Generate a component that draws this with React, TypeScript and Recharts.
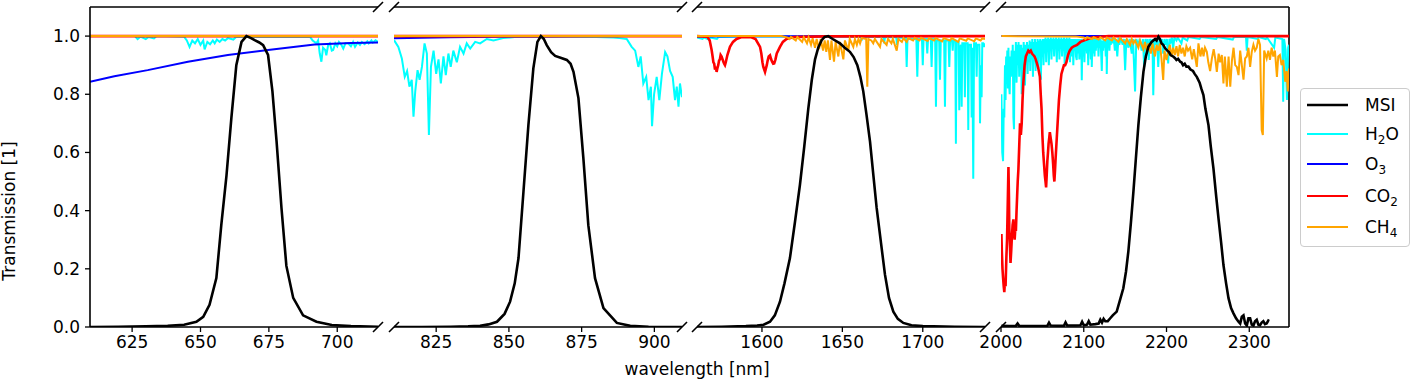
import React from "react";
import { LineChart, Line, XAxis, YAxis, ReferenceLine } from "recharts";

type Pt = [number, number];

const FONT = '"DejaVu Sans", sans-serif';

// ---- panel 1: ~610-715 nm (MSI band B4) ----
const msiP1: Pt[] = [
  [609.6, 0], [620, 0.001], [630, 0.002], [638, 0.004], [644, 0.008], [648.5, 0.018], [651, 0.035],
  [653.3, 0.076], [655.8, 0.168], [657.6, 0.35], [659.5, 0.52], [661.3, 0.72], [663.1, 0.9], [665, 0.98],
  [666.8, 1.0], [668.5, 0.993], [669.8, 0.986], [671.5, 0.978], [672.9, 0.969], [674.7, 0.935], [676.3, 0.81],
  [677.8, 0.64], [679.6, 0.41], [681.4, 0.21], [683.9, 0.1], [687.5, 0.04], [692.4, 0.018], [698, 0.007],
  [705, 0.003], [714.9, 0.001],
];
const h2oP1: Pt[] = [
  [609.6, 1.0], [626, 1.0], [627, 0.99], [628, 0.998], [630, 0.99], [631, 0.997], [633, 0.992], [634, 1.0],
  [644, 0.998], [645, 0.985], [646, 0.963], [647, 0.985], [648, 0.975], [649, 0.99], [650, 0.97], [651, 0.985],
  [651.5, 0.954], [652.5, 0.98], [653.5, 0.972], [654.5, 0.985], [655.2, 0.975], [656, 0.988], [657, 0.98],
  [658, 0.99], [659, 0.985], [660, 0.993], [662, 0.988], [663, 0.997], [690, 0.998], [691, 0.985],
  [692.4, 0.975], [693, 0.985], [693.6, 0.94], [694.2, 0.912], [694.8, 0.96], [695.6, 0.952], [696, 0.934],
  [696.7, 0.97], [697.3, 0.975], [698, 0.95], [698.5, 0.952], [699.3, 0.975], [700, 0.965], [700.6, 0.98],
  [701.5, 0.97], [702.2, 0.957], [703, 0.975], [704, 0.975], [705, 0.965], [705.8, 0.98], [706.5, 0.963],
  [707.5, 0.978], [708.3, 0.97], [709, 0.98], [710, 0.972], [711, 0.982], [711.5, 0.975], [712.5, 0.985],
  [713, 0.978], [714, 0.986], [714.9, 0.98],
];
const o3P1: Pt[] = [
  [609.6, 0.843], [618.5, 0.862], [630.7, 0.883], [645.4, 0.912], [660, 0.935], [674.7, 0.952],
  [691.7, 0.971], [705, 0.976], [714.9, 0.978],
];
const co2P1: Pt[] = [[609.6, 1.0], [714.9, 1.0]];
const ch4P1: Pt[] = [[609.6, 1.0], [714.9, 1.0]];

// ---- panel 2: ~810-910 nm (B8A) ----
const msiP2: Pt[] = [
  [810.5, 0], [820, 0], [830, 0.001], [836, 0.002], [840.1, 0.004], [843, 0.009], [845.9, 0.018], [848.5, 0.045],
  [850.4, 0.087], [852, 0.15], [853.3, 0.237], [855, 0.465], [856.7, 0.694], [858.4, 0.889], [859.8, 0.98],
  [861, 1.0], [862, 0.99], [863, 0.969], [864.5, 0.945], [865.9, 0.932], [868, 0.925], [869.9, 0.918],
  [871.2, 0.905], [872.2, 0.877], [873.9, 0.787], [875.6, 0.58], [877.3, 0.35], [879.6, 0.168], [882.5, 0.065],
  [887.1, 0.014], [891.7, 0.004], [898, 0.001], [909.5, 0],
];
const h2oP2: Pt[] = [
  [810.5, 0.986], [812, 0.963], [813.2, 0.923], [814.2, 0.86], [815, 0.88], [815.8, 0.826], [816.6, 0.85],
  [817.2, 0.723], [817.8, 0.81], [818.6, 0.883], [819.3, 0.85], [820.1, 0.894], [821, 0.975], [821.8, 0.94],
  [822.5, 0.66], [823.2, 0.894], [824.1, 0.95], [825, 0.87], [825.8, 0.92], [826.6, 0.837], [827.5, 0.93],
  [828.3, 0.866], [829.2, 0.94], [830, 0.894], [830.9, 0.95], [832.1, 0.91], [833.2, 0.963], [834.4, 0.94],
  [835.5, 0.975], [836.7, 0.957], [838.4, 0.98], [840.1, 0.975], [842.4, 0.99], [844.7, 0.985], [848, 0.993],
  [852, 0.997], [860, 0.999], [870, 0.998], [880, 0.997], [885.9, 0.995], [888, 0.993], [890.5, 0.99],
  [892.2, 0.963], [893.4, 0.95], [894.5, 0.894], [895.3, 0.93], [896.2, 0.837], [897.2, 0.86], [898, 0.78],
  [898.8, 0.826], [899.2, 0.69], [899.9, 0.8], [900.8, 0.86], [901.7, 0.78], [902.6, 0.87], [903.7, 0.945],
  [904.5, 0.93], [905.4, 0.88], [906.3, 0.86], [907.1, 0.78], [907.7, 0.826], [908.3, 0.757], [908.8, 0.837],
  [909.5, 0.79],
];
const o3P2: Pt[] = [[810.5, 0.993], [820, 0.994], [830, 0.996], [845, 0.998], [860, 0.999], [880, 1.0], [909.5, 1.0]];
const co2P2: Pt[] = [[810.5, 1.0], [909.5, 1.0]];
const ch4P2: Pt[] = [[810.5, 1.0], [909.5, 1.0]];

// ---- panel 3: ~1560-1739 nm (B11) ----
const msiP3: Pt[] = [
  [1559.6, 0], [1575, 0.001], [1590, 0.003], [1597, 0.005], [1601, 0.008], [1605, 0.018], [1608, 0.04],
  [1611.2, 0.087], [1614, 0.15], [1617.4, 0.237], [1620.5, 0.36], [1623.6, 0.488], [1626.3, 0.62],
  [1628.8, 0.75], [1631, 0.85], [1633, 0.92], [1635, 0.96], [1637.1, 0.986], [1639, 0.997], [1641.2, 1.0],
  [1644, 0.99], [1648.5, 0.975], [1651.5, 0.96], [1654.7, 0.946], [1657, 0.928], [1659.3, 0.9], [1661.2, 0.86],
  [1663, 0.81], [1665, 0.73], [1667.2, 0.637], [1669.3, 0.52], [1671.3, 0.41], [1674, 0.29], [1676.5, 0.18],
  [1679, 0.1], [1681.7, 0.053], [1684.5, 0.028], [1687.9, 0.014], [1693, 0.006], [1700, 0.003], [1720, 0.001],
  [1738.7, 0],
];
const h2oP3: Pt[] = [
  [1559.6, 0.995], [1563, 0.99], [1564, 0.995], [1567, 0.988], [1568, 0.995], [1572, 0.99], [1573, 0.997],
  [1590, 0.999], [1660, 0.998], [1661.5, 0.998], [1662, 0.985], [1662.5, 0.998], [1675.5, 0.997], [1676, 0.975],
  [1676.5, 0.996], [1683.5, 0.996], [1684, 0.97], [1684.5, 0.995], [1689.5, 0.993], [1690, 0.894], [1690.5, 0.99],
  [1696, 0.99], [1696.6, 0.86], [1697.2, 0.99], [1699.5, 0.99], [1700, 0.9], [1700.5, 0.99], [1702.3, 0.99],
  [1702.8, 0.94], [1703.3, 0.99], [1705, 0.99], [1705.5, 0.894], [1706, 0.99], [1707.7, 0.99], [1708.2, 0.757],
  [1708.7, 0.985], [1710.2, 0.985], [1710.7, 0.85], [1711.2, 0.985], [1713.3, 0.985], [1713.8, 0.757],
  [1714.3, 0.985], [1716, 0.985], [1716.5, 0.894], [1717, 0.985], [1718.2, 0.985], [1718.6, 0.95], [1719, 0.985],
  [1720.2, 0.985], [1720.6, 0.63], [1721, 0.98], [1722.3, 0.98], [1722.7, 0.745], [1723.1, 0.96], [1723.8, 0.97],
  [1724.2, 0.757], [1724.6, 0.975], [1725.8, 0.975], [1726.2, 0.79], [1726.6, 0.975], [1727.9, 0.975],
  [1728.3, 0.677], [1728.7, 0.97], [1730, 0.97], [1730.4, 0.72], [1730.8, 0.96], [1731.4, 0.51], [1731.9, 0.975],
  [1733.1, 0.975], [1733.5, 0.86], [1733.9, 0.97], [1735.2, 0.97], [1735.6, 0.7], [1736.1, 0.9], [1736.6, 0.79],
  [1737, 0.975], [1737.6, 0.975], [1738, 0.963], [1738.7, 0.975],
];
const o3P3: Pt[] = [[1559.6, 0.999], [1738.7, 1.0]];
const co2P3: Pt[] = [
  [1559.6, 1.0], [1566, 0.998], [1567.5, 0.985], [1568.7, 0.952], [1569.3, 0.93], [1569.8, 0.91], [1570.3, 0.905],
  [1570.8, 0.885], [1571.3, 0.895], [1571.8, 0.877], [1572.3, 0.89], [1572.8, 0.9], [1573.3, 0.915],
  [1573.8, 0.92], [1574.3, 0.935], [1574.9, 0.93], [1575.5, 0.92], [1576, 0.912], [1576.5, 0.905], [1577, 0.9],
  [1577.5, 0.91], [1578.5, 0.935], [1580.1, 0.963], [1582, 0.98], [1584.2, 0.99], [1587, 0.996], [1593, 0.997],
  [1596, 0.99], [1598.8, 0.963], [1599.6, 0.94], [1600.3, 0.91], [1600.8, 0.895], [1601.4, 0.885],
  [1601.9, 0.877], [1602.5, 0.89], [1603, 0.9], [1603.5, 0.915], [1604.2, 0.93], [1605, 0.934], [1605.7, 0.92],
  [1606.3, 0.912], [1607, 0.905], [1607.6, 0.906], [1608.4, 0.92], [1609.2, 0.94], [1611.2, 0.963], [1613, 0.98],
  [1615.3, 0.99], [1620, 0.997], [1640, 0.999], [1738.7, 1.0],
];
const ch4P3: Pt[] = [
  [1559.6, 1.0], [1612, 1.0], [1616, 0.995], [1617, 0.99], [1618, 0.997], [1621, 0.985], [1622, 0.997],
  [1625, 0.98], [1626, 0.996], [1628, 0.975], [1629, 0.995], [1630.5, 0.97], [1631.5, 0.993], [1633, 0.96],
  [1634, 0.99], [1635.5, 0.955], [1636.5, 0.99], [1638, 0.95], [1639, 0.985], [1640, 0.946], [1641, 0.985],
  [1642.3, 0.918], [1643.2, 0.985], [1644.8, 0.912], [1645.8, 0.98], [1647.5, 0.93], [1648.5, 0.98],
  [1650.6, 0.92], [1651.6, 0.985], [1653.7, 0.95], [1654.6, 0.99], [1656.8, 0.963], [1657.8, 0.99], [1659, 0.97],
  [1660, 0.99], [1661, 0.975], [1662, 0.993], [1664.8, 0.99], [1665.5, 0.826], [1666.2, 0.99], [1668, 0.985],
  [1669.2, 0.975], [1670.2, 0.99], [1673.4, 0.963], [1674.3, 0.99], [1677.5, 0.97], [1678.4, 0.99],
  [1680.5, 0.975], [1681.4, 0.99], [1683.8, 0.95], [1684.8, 0.99], [1687, 0.98], [1688, 0.993], [1690, 0.98],
  [1691, 0.993], [1694, 0.985], [1695, 0.994], [1698, 0.985], [1699, 0.994], [1703, 0.983], [1704, 0.993],
  [1707, 0.985], [1708, 0.993], [1712, 0.982], [1713, 0.993], [1717, 0.985], [1718, 0.993], [1722, 0.98],
  [1723, 0.992], [1727, 0.984], [1728, 0.992], [1732, 0.982], [1733, 0.992], [1736, 0.985], [1737, 0.992],
  [1738.7, 0.99],
];

// ---- panel 4: 2000-2350 nm (B12) ----
const msiP4: Pt[] = [
  [2000.5, 0.004], [2010, 0.003], [2018, 0.004], [2020, 0.012], [2022, 0.004], [2040, 0.003], [2056, 0.004],
  [2058, 0.015], [2060, 0.005], [2076, 0.004], [2078, 0.016], [2080, 0.005], [2090, 0.005], [2096, 0.006],
  [2098, 0.018], [2100, 0.006], [2104, 0.008], [2106, 0.02], [2108, 0.008], [2114, 0.01], [2118, 0.012],
  [2120, 0.025], [2122, 0.015], [2124, 0.028], [2126, 0.02], [2129, 0.02], [2132, 0.03], [2135, 0.04],
  [2139.8, 0.053], [2143.5, 0.09], [2147.8, 0.133], [2151, 0.19], [2153.9, 0.26], [2157, 0.36], [2160, 0.465],
  [2163, 0.58], [2166, 0.694], [2169, 0.79], [2172.1, 0.877], [2175, 0.93], [2178.1, 0.963], [2182, 0.98],
  [2186.2, 0.99], [2188, 0.985], [2190.2, 0.998], [2192, 0.99], [2194, 0.975], [2196, 0.97], [2198.3, 0.958],
  [2201, 0.95], [2203, 0.945], [2205, 0.935], [2208.4, 0.929], [2210, 0.925], [2212, 0.918], [2214, 0.922],
  [2216.5, 0.912], [2218, 0.91], [2220, 0.9], [2222, 0.905], [2224, 0.895], [2226.5, 0.895], [2229, 0.885],
  [2232, 0.88], [2234, 0.87], [2236.6, 0.86], [2240, 0.84], [2242, 0.82], [2244.6, 0.797], [2247, 0.75],
  [2250.7, 0.694], [2253.5, 0.62], [2256.7, 0.545], [2260, 0.45], [2262.8, 0.373], [2266, 0.29], [2268.8, 0.213],
  [2272, 0.15], [2274.9, 0.099], [2278, 0.065], [2280.9, 0.047], [2284, 0.03], [2287, 0.018], [2289, 0.012],
  [2291, 0.035], [2293, 0.04], [2295, 0.012], [2297, 0.005], [2299, 0.03], [2301, 0.03], [2303, 0.008],
  [2305, 0.005], [2307, 0.02], [2309, 0.025], [2311, 0.008], [2313, 0.006], [2315, 0.015], [2317, 0.02],
  [2319, 0.01], [2321, 0.012], [2323, 0.022], [2324, 0.02],
];
const h2oP4: Pt[] = [
  [2000.5, 0.8], [2001.5, 0.6], [2002.5, 0.57], [2003.3, 0.75], [2004, 0.72], [2004.8, 0.9], [2005.5, 0.78],
  [2006.2, 0.93], [2006.9, 0.85], [2007.6, 0.95], [2008.3, 0.82], [2009, 0.96], [2009.8, 0.83], [2010.5, 0.8],
  [2011.3, 0.93], [2012, 0.86], [2012.8, 0.95], [2013.5, 0.88], [2014.2, 0.97], [2015, 0.72], [2015.7, 0.68],
  [2016.5, 0.95], [2017.2, 0.87], [2018, 0.98], [2018.8, 0.84], [2019.6, 0.97], [2020.4, 0.9], [2021.2, 0.98],
  [2022, 0.86], [2022.8, 0.97], [2023.6, 0.9], [2024.3, 0.97], [2025, 0.8], [2025.8, 0.96], [2026.6, 0.88],
  [2027.4, 0.98], [2028.2, 0.86], [2029, 0.83], [2029.8, 0.97], [2030.6, 0.9], [2031.4, 0.98], [2032.2, 0.87],
  [2033, 0.97], [2033.8, 0.91], [2034.6, 0.985], [2035.4, 0.88], [2036.2, 0.98], [2037, 0.92], [2037.8, 0.99],
  [2038.6, 0.86], [2039.4, 0.98], [2040.2, 0.91], [2041, 0.99], [2041.8, 0.88], [2042.6, 0.98], [2043.4, 0.93],
  [2044.2, 0.99], [2045, 0.89], [2045.8, 0.985], [2046.6, 0.94], [2047.4, 0.99], [2048.2, 0.85], [2049, 0.985],
  [2049.8, 0.93], [2050.6, 0.99], [2051.4, 0.9], [2052.2, 0.99], [2053, 0.94], [2053.8, 0.995], [2054.6, 0.91],
  [2055.4, 0.99], [2056.2, 0.95], [2057, 0.995], [2057.8, 0.9], [2058.6, 0.99], [2059.4, 0.95], [2060.2, 0.995],
  [2061, 0.92], [2061.8, 0.99], [2062.6, 0.96], [2063.4, 0.995], [2064.2, 0.93], [2065, 0.99], [2065.8, 0.96],
  [2066.6, 0.995], [2067.4, 0.91], [2068.2, 0.99], [2069, 0.95], [2069.8, 0.995], [2070.6, 0.92], [2071.4, 0.99],
  [2072.2, 0.96], [2073, 0.995], [2073.8, 0.93], [2074.6, 0.99], [2075.4, 0.95], [2076.2, 0.995], [2077, 0.9],
  [2077.8, 0.99], [2078.6, 0.94], [2079.4, 0.995], [2080.2, 0.92], [2081, 0.99], [2081.8, 0.96], [2082.6, 0.995],
  [2083.4, 0.91], [2084.2, 0.99], [2085, 0.95], [2085.8, 0.93], [2086.6, 0.99], [2087.4, 0.9], [2088.2, 0.99],
  [2089, 0.95], [2089.8, 0.99], [2090.6, 0.93], [2091.5, 0.918], [2092.3, 0.99], [2093.1, 0.94], [2093.9, 0.99],
  [2094.7, 0.92], [2095.5, 0.99], [2096.3, 0.95], [2097, 0.99], [2097.6, 0.848], [2098.4, 0.985], [2099.2, 0.93],
  [2100, 0.99], [2100.8, 0.91], [2101.6, 0.99], [2102.4, 0.95], [2103.2, 0.99], [2103.8, 0.94], [2104.6, 0.99],
  [2105.4, 0.9], [2106.2, 0.99], [2107, 0.95], [2107.8, 0.99], [2108.6, 0.92], [2109.2, 0.99], [2109.7, 0.894],
  [2110.5, 0.99], [2111.3, 0.94], [2112.1, 0.99], [2113, 0.93], [2113.8, 0.995], [2114.6, 0.95], [2115.4, 0.99],
  [2116.2, 0.96], [2117, 0.995], [2117.8, 0.93], [2118.6, 0.99], [2119.4, 0.96], [2120.2, 0.99], [2121, 0.94],
  [2121.8, 0.88], [2122.6, 0.985], [2123.4, 0.95], [2124.2, 0.99], [2125, 0.96], [2125.8, 0.99], [2126.6, 0.93],
  [2127.4, 0.985], [2127.8, 0.87], [2128.6, 0.99], [2129.4, 0.96], [2130.2, 0.995], [2131, 0.95], [2131.8, 0.99],
  [2132.6, 0.97], [2133.4, 0.995], [2135, 0.975], [2136.2, 0.995], [2137.6, 0.95], [2139, 0.99], [2140.5, 0.93],
  [2142, 0.995], [2143, 0.97], [2144.5, 0.995], [2147, 0.97], [2148.5, 0.99], [2150, 0.883], [2151.5, 0.99],
  [2154, 0.96], [2155.5, 0.99], [2158, 0.94], [2159.5, 0.99], [2162, 0.81], [2163.5, 0.99], [2166, 0.97],
  [2167.5, 0.99], [2170, 0.95], [2171.5, 0.99], [2173, 0.894], [2174.5, 0.99], [2176, 0.96], [2177.2, 0.99],
  [2178.5, 0.918], [2180, 0.99], [2182, 0.96], [2183, 0.99], [2184, 0.797], [2185.5, 0.99], [2187, 0.97],
  [2188.5, 0.99], [2190, 0.894], [2191.5, 0.99], [2193, 0.97], [2194.5, 0.99], [2196, 0.94], [2197.5, 0.99],
  [2199, 0.97], [2200.5, 0.99], [2202, 0.906], [2203.5, 0.99], [2205, 0.98], [2206.5, 0.995], [2208, 0.957],
  [2209.5, 0.995], [2212, 0.985], [2213.5, 0.995], [2218, 0.975], [2219.5, 0.995], [2225, 0.985], [2226.5, 0.997],
  [2240, 0.99], [2241.5, 0.997], [2260, 0.99], [2261.5, 0.997], [2280, 0.988], [2281.5, 0.997], [2296, 0.997],
  [2297, 0.95], [2298, 0.997], [2310, 0.99], [2311.5, 0.997], [2320, 0.99], [2321.5, 0.995], [2330, 0.96],
  [2331.5, 0.995], [2340, 0.99], [2341, 0.774], [2342, 0.99], [2344, 0.95], [2345.5, 0.78], [2347, 0.96],
  [2348, 0.97],
];
const o3P4: Pt[] = [[2000.5, 1.0], [2348, 1.0]];
const co2P4: Pt[] = [
  [2000.5, 0.32], [2001, 0.26], [2001.8, 0.2], [2002.5, 0.17], [2003.3, 0.14], [2004, 0.12], [2004.8, 0.16],
  [2005.5, 0.14], [2006.5, 0.24], [2007.3, 0.3], [2008, 0.4], [2009, 0.55], [2009.6, 0.45], [2010, 0.34],
  [2010.8, 0.28], [2011.5, 0.22], [2012.3, 0.26], [2013, 0.3], [2014, 0.35], [2015, 0.37], [2015.8, 0.33],
  [2016.5, 0.3], [2017.3, 0.34], [2018, 0.33], [2018.8, 0.4], [2019.5, 0.45], [2020.2, 0.5], [2021, 0.54],
  [2022, 0.62], [2023, 0.7], [2024, 0.66], [2025, 0.7], [2026, 0.78], [2027, 0.84], [2028.5, 0.9], [2030, 0.93],
  [2031.5, 0.94], [2033, 0.95], [2034.5, 0.945], [2036, 0.95], [2037.5, 0.94], [2039, 0.935], [2040.5, 0.93],
  [2042, 0.92], [2043.5, 0.905], [2045, 0.89], [2046, 0.875], [2047, 0.86], [2048, 0.8], [2049, 0.75],
  [2050, 0.66], [2051, 0.6], [2052, 0.56], [2053, 0.52], [2053.8, 0.5], [2054.5, 0.48], [2055.2, 0.52],
  [2056, 0.57], [2056.8, 0.6], [2057.5, 0.63], [2058.3, 0.65], [2059, 0.67], [2060, 0.65], [2061, 0.63],
  [2062, 0.6], [2063, 0.56], [2063.8, 0.52], [2064.5, 0.5], [2065.3, 0.54], [2066, 0.58], [2067, 0.63],
  [2068, 0.68], [2069, 0.73], [2070, 0.78], [2071.5, 0.83], [2073, 0.87], [2074.5, 0.885], [2076, 0.9],
  [2077.5, 0.9], [2079, 0.91], [2081, 0.935], [2083, 0.95], [2085.5, 0.96], [2088, 0.965], [2092, 0.97],
  [2096, 0.98], [2100, 0.985], [2105, 0.99], [2110, 0.995], [2120, 0.998], [2130, 1.0], [2348, 1.0],
];
const ch4P4: Pt[] = [
  [2000.5, 1.0], [2090, 0.999], [2100, 0.995], [2102, 0.99], [2104, 0.996], [2110, 0.99], [2112, 0.996],
  [2118, 0.988], [2120, 0.996], [2126, 0.985], [2128, 0.995], [2134, 0.985], [2136, 0.995], [2142, 0.98],
  [2144, 0.993], [2150, 0.975], [2152, 0.99], [2156, 0.97], [2158, 0.99], [2160, 0.975], [2162, 0.985],
  [2166, 0.96], [2168, 0.985], [2172, 0.955], [2174, 0.98], [2176, 0.95], [2178, 0.975], [2181, 0.94],
  [2183, 0.975], [2186, 0.93], [2188, 0.97], [2190, 0.95], [2192, 0.975], [2194, 0.92], [2196, 0.849],
  [2197.5, 0.95], [2200, 0.918], [2202, 0.946], [2204, 0.97], [2206, 0.93], [2208, 0.96], [2210, 0.935],
  [2212, 0.965], [2214, 0.93], [2216, 0.97], [2218, 0.94], [2220, 0.96], [2222, 0.93], [2224, 0.965],
  [2226, 0.95], [2228.5, 0.96], [2231, 0.92], [2233, 0.955], [2236.6, 0.894], [2238.6, 0.975], [2241, 0.93],
  [2243, 0.96], [2244.7, 0.93], [2246.5, 0.96], [2248.7, 0.946], [2250.5, 0.91], [2252.7, 0.88],
  [2254.8, 0.923], [2257, 0.955], [2259, 0.92], [2260.8, 0.877], [2263, 0.94], [2264.8, 0.91], [2266.8, 0.935],
  [2268.8, 0.837], [2270.5, 0.93], [2272.9, 0.826], [2275, 0.93], [2277, 0.826], [2279, 0.915], [2281, 0.96],
  [2283, 0.9], [2285, 0.894], [2287, 0.866], [2289, 0.95], [2291, 0.9], [2293, 0.85], [2295, 0.923],
  [2297, 0.93], [2299, 0.96], [2301, 0.894], [2303, 0.946], [2305, 0.97], [2307, 0.95], [2309, 0.96],
  [2311, 0.99], [2313, 0.97], [2315, 0.677], [2316.4, 0.66], [2318, 0.95], [2321, 0.923], [2323, 0.95],
  [2325, 0.918], [2327, 0.96], [2329, 0.93], [2331, 0.95], [2333.4, 0.86], [2335, 0.93], [2337, 0.935],
  [2339, 0.9], [2341, 0.918], [2343.4, 0.843], [2345, 0.88], [2346.5, 0.81], [2348, 0.889],
];

const yTicks = [0, 0.2, 0.4, 0.6, 0.8, 1.0];

const COLORS = { msi: "#000000", h2o: "#00ffff", o3: "#0000ff", co2: "#ff0000", ch4: "#ffa500" };

const PLOT_TOP = 7;
const PLOT_BOTTOM = 327;
const W = 1412;
const H = 380;

const panels = [
  { left: 90, right: 378, domain: [609.6, 714.9], ticks: [625, 650, 675, 700], msi: msiP1, h2o: h2oP1, o3: o3P1, co2: co2P1, ch4: ch4P1 },
  { left: 394, right: 682, domain: [810.5, 909.5], ticks: [825, 850, 875, 900], msi: msiP2, h2o: h2oP2, o3: o3P2, co2: co2P2, ch4: ch4P2 },
  { left: 697, right: 985, domain: [1559.6, 1738.7], ticks: [1600, 1650, 1700], msi: msiP3, h2o: h2oP3, o3: o3P3, co2: co2P3, ch4: ch4P3 },
  { left: 1001, right: 1289, domain: [2000, 2348], ticks: [2000, 2100, 2200, 2300], msi: msiP4, h2o: h2oP4, o3: o3P4, co2: co2P4, ch4: ch4P4 },
];

const toRows = (pts: Pt[]) => pts.map(([w, v]) => ({ w, v }));

const tickStyle = { fill: "#000", fontSize: 17, fontFamily: FONT };

function Panel({ p, first, last }: { p: any; first: boolean; last: boolean }) {
  const yAxisW = 70;
  // draw order: atmosphere first, MSI response on top
  const series = [
    { key: "h2o", data: p.h2o, color: COLORS.h2o, w: 2 },
    { key: "o3", data: p.o3, color: COLORS.o3, w: 2 },
    { key: "co2", data: p.co2, color: COLORS.co2, w: 2.6 },
    { key: "ch4", data: p.ch4, color: COLORS.ch4, w: 2 },
    { key: "msi", data: p.msi, color: COLORS.msi, w: 2.6 },
  ];
  return (
    <div style={{ position: "absolute", left: 0, top: 0 }}>
      <LineChart
        width={W}
        height={H}
        margin={{ top: PLOT_TOP, right: W - p.right, bottom: H - PLOT_BOTTOM - 30, left: first ? p.left - yAxisW : p.left }}
      >
        <XAxis
          type="number"
          dataKey="w"
          domain={p.domain}
          ticks={p.ticks}
          allowDataOverflow
          interval={0}
          height={30}
          tickSize={5}
          tickMargin={4}
          axisLine={{ stroke: "#000", strokeWidth: 1.6 }}
          tickLine={{ stroke: "#000", strokeWidth: 1.3 }}
          tick={tickStyle}
        />
        <YAxis
          type="number"
          domain={[0, 1.1]}
          allowDataOverflow
          hide={!first}
          width={yAxisW}
          ticks={yTicks}
          interval={0}
          tickSize={5}
          tickMargin={5}
          tickFormatter={(v: number) => v.toFixed(1)}
          axisLine={{ stroke: "#000", strokeWidth: 1.6 }}
          tickLine={{ stroke: "#000", strokeWidth: 1.3 }}
          tick={tickStyle}
        />
        <ReferenceLine y={1.1} stroke="#000" strokeWidth={1.6} />
        {last && <ReferenceLine x={p.domain[1]} stroke="#000" strokeWidth={1.6} />}
        {series.map((s) => (
          <Line
            key={s.key}
            data={toRows(s.data)}
            dataKey="v"
            type="linear"
            stroke={s.color}
            strokeWidth={s.w}
            dot={false}
            activeDot={false}
            isAnimationActive={false}
          />
        ))}
      </LineChart>
    </div>
  );
}

const legendItems = [
  { label: <>MSI</>, color: COLORS.msi, w: 2.6, top: 104 },
  { label: <>H<sub style={{ fontSize: 12 }}>2</sub>O</>, color: COLORS.h2o, w: 2, top: 133 },
  { label: <>O<sub style={{ fontSize: 12 }}>3</sub></>, color: COLORS.o3, w: 2, top: 163 },
  { label: <>CO<sub style={{ fontSize: 12 }}>2</sub></>, color: COLORS.co2, w: 2, top: 195 },
  { label: <>CH<sub style={{ fontSize: 12 }}>4</sub></>, color: COLORS.ch4, w: 2, top: 226 },
];

function LegendBox() {
  return (
    <div
      style={{
        position: "absolute",
        left: 1300,
        top: 88,
        width: 110,
        height: 159,
        boxSizing: "border-box",
        border: "1px solid #cccccc",
        borderRadius: 4,
        background: "rgba(255,255,255,0.8)",
        fontFamily: FONT,
        fontSize: 17,
      }}
    >
      {legendItems.map((it, i) => (
        <div key={i} style={{ position: "absolute", left: 0, top: it.top - 88 - 12, height: 24, width: 110 }}>
          <svg width={50} height={24} style={{ position: "absolute", left: 0, top: 0 }}>
            <line x1={6} x2={47} y1={12} y2={12} stroke={it.color} strokeWidth={it.w} />
          </svg>
          <span style={{ position: "absolute", left: 64, top: 1, lineHeight: "22px", whiteSpace: "nowrap" }}>{it.label}</span>
        </div>
      ))}
    </div>
  );
}

function Overlay() {
  const ends = [378, 394, 682, 697, 985, 1001];
  const d = 5;
  return (
    <svg width={W} height={H} style={{ position: "absolute", left: 0, top: 0, pointerEvents: "none" }}>
      {ends.map((x) =>
        [PLOT_TOP, PLOT_BOTTOM].map((y) => (
          <line key={`${x}-${y}`} x1={x - d} y1={y + d} x2={x + d} y2={y - d} stroke="#000" strokeWidth={1.6} />
        ))
      )}
      <text x={697} y={375} textAnchor="middle" fontFamily={FONT} fontSize={17} fill="#000">
        wavelength [nm]
      </text>
      <text
        x={15}
        y={211}
        textAnchor="middle"
        fontFamily={FONT}
        fontSize={17}
        fill="#000"
        transform="rotate(-90 15 211)"
      >
        Transmission [1]
      </text>
    </svg>
  );
}

export default function App() {
  return (
    <div style={{ position: "absolute", left: 0, top: 0, width: W, height: H, background: "#fff", fontFamily: FONT }}>
      {panels.map((p, i) => (
        <Panel key={i} p={p} first={i === 0} last={i === panels.length - 1} />
      ))}
      <Overlay />
      <LegendBox />
    </div>
  );
}
